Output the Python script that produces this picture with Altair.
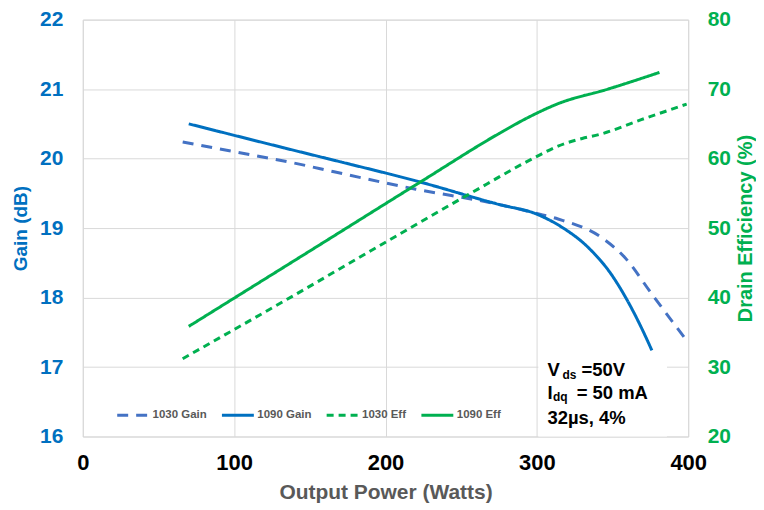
import altair as alt
import pandas as pd

# ---- data ----
series_order = ["1030 Gain", "1090 Gain", "1030 Eff", "1090 Eff"]

gain_1030_w = [66, 100, 143, 166, 220, 275, 300, 314, 343, 358, 376, 399]
gain_1030 = [20.24, 20.10, 19.92, 19.81, 19.56, 19.34, 19.21, 19.13, 18.86, 18.58, 18.05, 17.38]

gain_1090_w = [70, 143, 169, 220, 275, 300, 316, 334, 349, 360, 369, 376]
gain_1090 = [20.50, 20.10, 19.96, 19.68, 19.34, 19.20, 19.02, 18.72, 18.34, 17.95, 17.57, 17.24]

eff_1030_w = [66, 145, 190, 255, 299, 314, 330, 341, 369, 399]
eff_1030 = [31.2, 41.0, 46.7, 54.85, 60.2, 61.8, 62.9, 63.45, 65.6, 67.85]

eff_1090_w = [70, 150, 224, 275, 295, 314, 347, 381]
eff_1090 = [35.85, 46.7, 56.76, 63.6, 66.0, 67.9, 70.0, 72.4]

x_ticks = [0, 100, 200, 300, 400]
gain_ticks = [16, 17, 18, 19, 20, 21, 22]
eff_ticks = [20, 30, 40, 50, 60, 70, 80]

# ---- tables ----
gain_df = pd.concat([
    pd.DataFrame({"power": gain_1030_w, "gain": gain_1030, "series": "1030 Gain"}),
    pd.DataFrame({"power": gain_1090_w, "gain": gain_1090, "series": "1090 Gain"}),
])
eff_df = pd.concat([
    pd.DataFrame({"power": eff_1030_w, "eff": eff_1030, "series": "1030 Eff"}),
    pd.DataFrame({"power": eff_1090_w, "eff": eff_1090, "series": "1090 Eff"}),
])

FONT = "Liberation Sans"
BLUE = "#0070C0"
GREEN = "#00B050"

legend = alt.Legend(
    title=None, orient="none", legendX=33, legendY=379, direction="horizontal",
    symbolType="stroke", symbolSize=1024, symbolStrokeWidth=3,
    labelFont=FONT, labelFontSize=11.5, labelFontWeight="bold", labelColor="#595959",
    labelOffset=2, columnPadding=8, padding=0,
)
color = alt.Color("series:N", scale=alt.Scale(domain=series_order,
                  range=["#4472C4", BLUE, GREEN, GREEN]), legend=legend)
dash = alt.StrokeDash("series:N", scale=alt.Scale(domain=series_order,
                      range=[[11, 8], [1, 0], [7, 5], [1, 0]]), legend=legend)

x_enc = alt.X("power:Q", scale=alt.Scale(domain=[0, 400], nice=False),
              axis=alt.Axis(values=x_ticks, format="d", title="Output Power (Watts)", grid=True,
                            gridColor="#D9D9D9", domain=False, ticks=False, labelFlush=False,
                            labelFont=FONT, labelFontSize=22, labelFontWeight="bold",
                            labelColor="#000000", labelPadding=16,
                            titleFont=FONT, titleFontSize=21, titleFontWeight="bold",
                            titleColor="#595959", titlePadding=8))

gain_scale = alt.Scale(domain=[16, 22], nice=False, zero=False)

gain_lines = alt.Chart(gain_df).mark_line(strokeWidth=3, interpolate="monotone").encode(
    x=x_enc,
    y=alt.Y("gain:Q", scale=gain_scale,
            axis=alt.Axis(values=gain_ticks, format="d", title="Gain (dB)", grid=True,
                          gridColor="#D9D9D9", domain=False, ticks=False,
                          labelFont=FONT, labelFontSize=21, labelFontWeight="bold",
                          labelColor=BLUE, labelPadding=20,
                          titleFont=FONT, titleFontSize=19, titleFontWeight="bold",
                          titleColor=BLUE, titlePadding=9)),
    color=color, strokeDash=dash,
)

one = pd.DataFrame({"k": [0]})
box = alt.Chart(one).mark_rect(fill="white").encode(
    x=alt.datum(301), x2=alt.datum(386), y=alt.datum(16.0), y2=alt.datum(17.16))

def txt(s, xv, yv, size):
    return alt.Chart(one).mark_text(text=s, align="left", baseline="middle", font=FONT,
                                    fontSize=size, fontWeight="bold", color="#000000").encode(
        x=alt.datum(xv), y=alt.datum(yv))

notes = [
    txt("V", 307, 16.96, 18.5), txt("ds", 317, 16.887, 12), txt("=50V", 329.5, 16.96, 18.5),
    txt("I", 307, 16.624, 18.5), txt("dq", 310.6, 16.568, 12), txt("= 50 mA", 326.3, 16.624, 18.5),
    txt("32µs, 4%", 307, 16.26, 18.5),
]

gain_layer = alt.layer(gain_lines, box, *notes)

eff_lines = alt.Chart(eff_df).mark_line(strokeWidth=3, interpolate="monotone").encode(
    x=x_enc,
    y=alt.Y("eff:Q", scale=alt.Scale(domain=[20, 80], nice=False, zero=False),
            axis=alt.Axis(orient="right", values=eff_ticks, format="d",
                          title="Drain Efficiency (%)",
                          grid=False, domain=False, ticks=False,
                          labelFont=FONT, labelFontSize=21, labelFontWeight="bold",
                          labelColor=GREEN, labelPadding=19,
                          titleFont=FONT, titleFontSize=20, titleFontWeight="bold",
                          titleColor=GREEN, titlePadding=5, titleAngle=270,
                          titleBaseline="top")),
    color=color, strokeDash=dash,
)

chart = alt.layer(gain_layer, eff_lines).resolve_scale(y="independent").properties(
    width=607, height=418,
    padding={"left": 3, "top": 0, "right": 0, "bottom": 0},
).configure_view(stroke="#D9D9D9", strokeWidth=1)

chart.save("out.html", embed_options={"renderer": "svg", "actions": False})
